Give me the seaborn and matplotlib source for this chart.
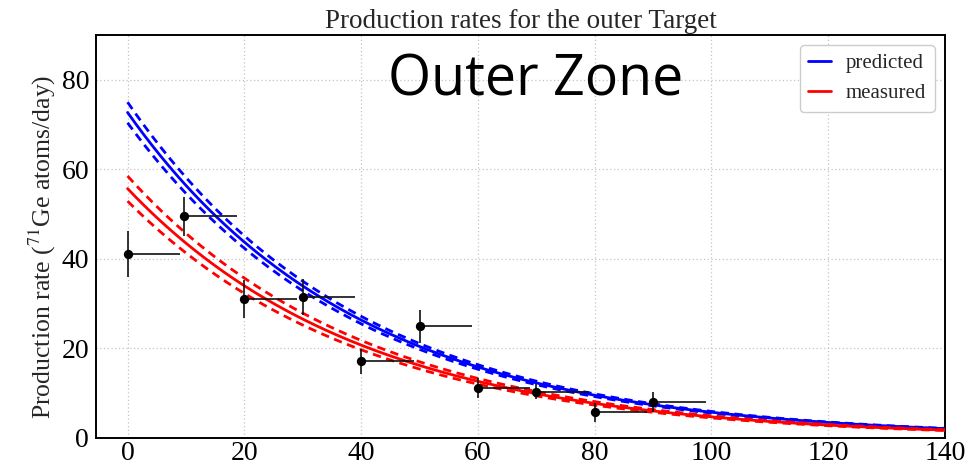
import numpy as np
import pandas as pd
import matplotlib
matplotlib.use("Agg")
import matplotlib.pyplot as plt
import seaborn as sns
from matplotlib.ticker import MultipleLocator
from matplotlib.lines import Line2D

# Measured production rates per depth slice
depth = [0, 9.7, 20, 30, 40, 50, 60, 70, 80, 90]
rate = [41.1, 49.5, 31.1, 31.4, 17.1, 24.9, 11.1, 10.3, 5.75, 8.1]
rate_err = [5.2, 4.3, 4.2, 4.0, 2.7, 3.6, 2.2, 1.7, 2.1, 2.2]
slice_width = [9, 9, 9, 9, 9, 9, 9, 9, 9, 9]

# Exponential attenuation models: normalisation, its uncertainty, attenuation length
pred_norm, pred_norm_err, pred_length = 72.7, 2.3, 39.4
meas_norm, meas_norm_err, meas_length = 55.7, 2.8, 40.5

x_ticks = [0, 20, 40, 60, 80, 100, 120, 140]
y_ticks = [0, 20, 40, 60, 80]

sns.set_style("white")
plt.rcParams["font.family"] = ["Liberation Serif", "DejaVu Serif"]
plt.rcParams["mathtext.fontset"] = "stix"

fig = plt.figure(figsize=(9.78, 4.65), dpi=100)
ax = fig.add_axes([0.0982, 0.0581, 0.9663 - 0.0982, 0.9247 - 0.0581])

xs = np.linspace(0, 140, 400)


def model(norm, length):
    return norm * np.exp(-xs / length)


curves = []
for label, norm, err, length in [
    ("predicted", pred_norm, pred_norm_err, pred_length),
    ("measured", meas_norm, meas_norm_err, meas_length),
]:
    curves.append(pd.DataFrame({"x": xs, "y": model(norm, length), "model": label, "band": "central"}))
    curves.append(pd.DataFrame({"x": xs, "y": model(norm + err, length), "model": label, "band": "upper"}))
    curves.append(pd.DataFrame({"x": xs, "y": model(norm - err, length), "model": label, "band": "lower"}))
curves = pd.concat(curves, ignore_index=True)

palette = {"predicted": "#0000ff", "measured": "#ff0000"}
for (label, band), sub in curves.groupby(["model", "band"], sort=False):
    sns.lineplot(
        data=sub, x="x", y="y", ax=ax, color=palette[label], lw=2.0,
        linestyle="-" if band == "central" else (0, (3, 2)),
        legend=False, zorder=3 if label == "predicted" else 4,
    )

points = pd.DataFrame({"depth": depth, "rate": rate})
ax.errorbar(depth, rate, yerr=rate_err,
            xerr=[np.zeros(len(depth)), slice_width],
            fmt="none", ecolor="#111111", elinewidth=1.2, capsize=0, zorder=5)
sns.scatterplot(data=points, x="depth", y="rate", ax=ax, color="black",
                s=45, edgecolor="black", linewidth=0, zorder=6)

ax.set_xlim(-5.4, 140)
ax.set_ylim(0, 90)
ax.set_xticks(x_ticks)
ax.set_yticks(y_ticks)
ax.xaxis.set_minor_locator(MultipleLocator(5))
ax.yaxis.set_minor_locator(MultipleLocator(5))
ax.tick_params(which="both", direction="in", colors="black", labelsize=20,
               top=False, right=False)
ax.tick_params(which="major", length=12, width=1.0)
ax.tick_params(axis="x", which="major", pad=2)
ax.tick_params(axis="y", which="major", pad=5)
ax.tick_params(which="minor", length=6, width=1.0)
ax.grid(True, which="major", linestyle=(0, (1, 2)), color="#c4c4c4", lw=0.9)
for s in ax.spines.values():
    s.set_color("black")
    s.set_linewidth(1.4)

ax.set_xlabel("")
ax.set_ylabel(r"Production rate ($^{71}$Ge atoms/day)", fontsize=18.5)
ax.yaxis.set_label_coords(-0.045, 0.475)
ax.set_title("Production rates for the outer Target", fontsize=19.5, pad=5)

ax.text(0.518, 0.885, "Outer Zone", transform=ax.transAxes, ha="center", va="center",
        fontsize=40, family="Open Sans", color="black")

handles = [Line2D([], [], color="#0000ff", lw=2.0), Line2D([], [], color="#ff0000", lw=2.0)]
ax.legend(handles, ["predicted", "measured"], loc="upper right", fontsize=15,
          handlelength=1.1, handletextpad=0.7, borderaxespad=0.5, frameon=True,
          framealpha=1.0, edgecolor="#cccccc", fancybox=True)

fig.savefig("out.png", dpi=100)
